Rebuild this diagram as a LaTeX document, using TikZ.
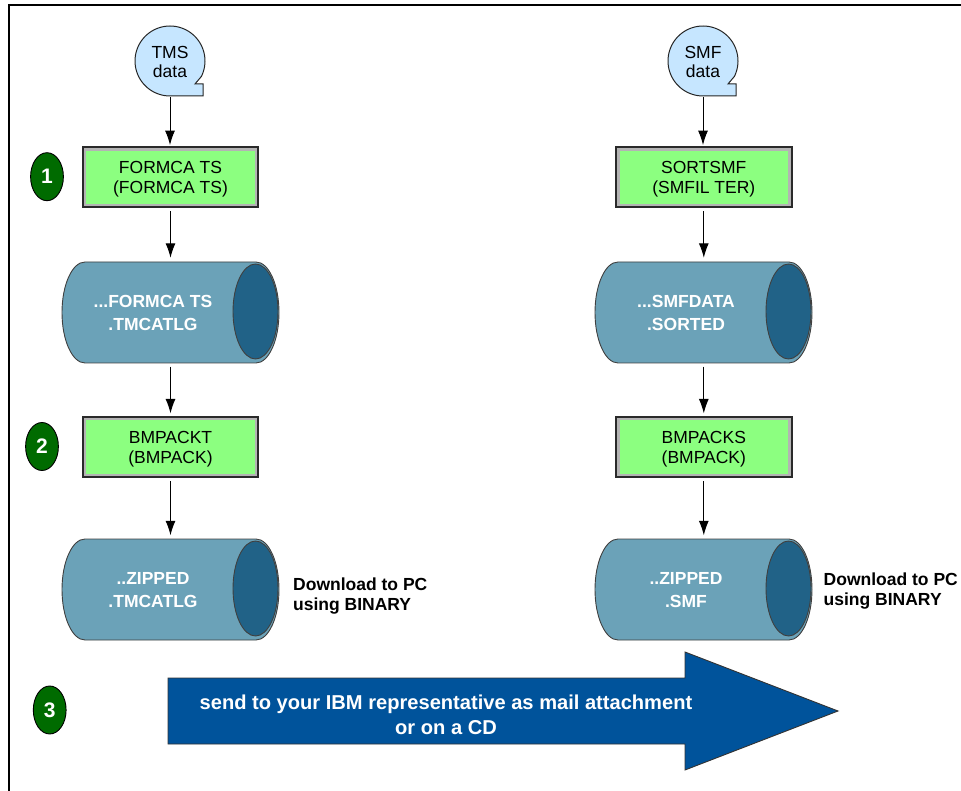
\documentclass[tikz,border=0pt]{standalone}
\usepackage{fontspec}
\setmainfont{Liberation Sans}
\usetikzlibrary{arrows.meta}
\definecolor{bubblefill}{HTML}{C6E6FF}
\definecolor{boxgreen}{HTML}{8CFF80}
\definecolor{boxband}{HTML}{B4B4B4}
\definecolor{boxline}{HTML}{2A2A2A}
\definecolor{drumbody}{HTML}{6BA2B8}
\definecolor{drumend}{HTML}{216287}
\definecolor{stepgreen}{HTML}{006B00}
\definecolor{bigblue}{HTML}{00539B}
\newcommand{\lowertop}{\rule{0pt}{17pt}}
\tikzset{
  x=1pt,y=-1pt,
  bubbletext/.style={align=center,font=\fontsize{17.5}{19.5}\selectfont,inner sep=0pt,minimum width=70pt,minimum height=70pt},
  progbox/.style={draw=boxline,line width=1.8pt,fill=boxband,minimum width=175.6pt,minimum height=60.4pt,inner sep=0pt,align=center,font=\fontsize{17.5}{20}\selectfont,
    path picture={\fill[boxgreen] ([shift={(3.6,3.6)}]path picture bounding box.north west) rectangle ([shift={(-3.6,-3.6)}]path picture bounding box.south east);}},
  drumtext/.style={text=white,align=center,font=\bfseries\fontsize{17.5}{23}\selectfont,inner sep=0pt,minimum width=182pt,minimum height=101pt},
  drumline/.style={draw=black!75,line width=0.9pt},
  steptext/.style={text=white,font=\bfseries\fontsize{21}{22}\selectfont,inner sep=0pt},
  flow/.style={-{Latex[length=14.5pt,width=10pt]},line width=1pt,black},
  note/.style={align=left,font=\bfseries\fontsize{17.5}{20}\selectfont,inner sep=0pt,anchor=west}
}
\newcommand{\bubbleshape}[2]{%
  \draw[line width=1pt,draw=black!85,fill=bubblefill]
    plot[domain=-26:270,samples=70,smooth] ({#1+35*cos(\x)},{#2-35*sin(\x)})
    -- (#1+33,#2+35) -- (#1+33,#2+23) -- (#1+25,#2+23) -- cycle;
}
\newcommand{\drumshape}[2]{%
  \draw[drumline,fill=drumbody] (#1-85.5,#2-50.5) -- (#1+85.5,#2-50.5)
    .. controls (#1+98.2,#2-50.5) and (#1+108.5,#2-27.9) .. (#1+108.5,#2)
    .. controls (#1+108.5,#2+27.9) and (#1+98.2,#2+50.5) .. (#1+85.5,#2+50.5)
    -- (#1-85.5,#2+50.5)
    .. controls (#1-98.2,#2+50.5) and (#1-108.5,#2+27.9) .. (#1-108.5,#2)
    .. controls (#1-108.5,#2-27.9) and (#1-98.2,#2-50.5) .. (#1-85.5,#2-50.5) -- cycle;
  \draw[drumline,fill=drumend] (#1+85,#2-1) ellipse[x radius=22.5,y radius=47.5];
}
\newcommand{\stepshape}[2]{%
  \draw[line width=0.9pt,fill=stepgreen] (#1,#2) ellipse[x radius=16.4,y radius=24];
}
\begin{document}
\begin{tikzpicture}
\useasboundingbox (0,0) rectangle (961,791);
\draw[line width=1.6pt] (9,791) -- (9,5) -- (961,5);

% left column
\bubbleshape{170}{61}
\node[bubbletext] (tms) at (170,62) {TMS\\data};
\node[progbox] (formcats) at (170.5,177.2) {\lowertop FORMCA TS\\(FORMCA TS)};
\drumshape{170.5}{312.5}
\node[drumtext] (drumone) at (153,312.5) {...FORMCA TS\\.TMCATLG};
\node[progbox] (bmpackt) at (170.5,447) {\lowertop BMPACKT\\(BMPACK)};
\drumshape{170.5}{589.5}
\node[drumtext] (drumtwo) at (153,590) {..ZIPPED\\.TMCATLG};

% right column
\bubbleshape{703}{61}
\node[bubbletext] (smf) at (703,62) {SMF\\data};
\node[progbox] (sortsmf) at (703.8,177.2) {\lowertop SORTSMF\\(SMFIL TER)};
\drumshape{703.5}{312.5}
\node[drumtext] (drumthree) at (686,312.5) {...SMFDATA\\.SORTED};
\node[progbox] (bmpacks) at (703.8,447) {\lowertop BMPACKS\\(BMPACK)};
\drumshape{703.5}{589.5}
\node[drumtext] (drumfour) at (686,590) {..ZIPPED\\.SMF};

% connectors
\draw[flow,shorten >=1pt] (tms.south) -- (tms.south |- formcats.north);
\draw[flow,shorten <=3pt,shorten >=4pt] (formcats.south) -- (formcats.south |- drumone.north);
\draw[flow,shorten <=3.5pt,shorten >=2.5pt] (bmpackt.north |- drumone.south) -- (bmpackt.north);
\draw[flow,shorten <=3pt,shorten >=4pt] (bmpackt.south) -- (bmpackt.south |- drumtwo.north);
\draw[flow,shorten >=1pt] (smf.south) -- (smf.south |- sortsmf.north);
\draw[flow,shorten <=3pt,shorten >=4pt] (sortsmf.south) -- (sortsmf.south |- drumthree.north);
\draw[flow,shorten <=3.5pt,shorten >=2.5pt] (bmpacks.north |- drumthree.south) -- (bmpacks.north);
\draw[flow,shorten <=3pt,shorten >=4pt] (bmpacks.south) -- (bmpacks.south |- drumfour.north);

% step marks
\stepshape{47}{176.7}
\node[steptext] (stepone) at (47,176.7) {1};
\stepshape{42}{446.5}
\node[steptext] (steptwo) at (42,446.5) {2};
\stepshape{49.7}{710}
\node[steptext] (stepthree) at (49.7,710) {3};

% notes
\node[note] (noteleft) at (293,596) {Download to PC\\using BINARY};
\node[note] (noteright) at (823.5,591) {Download to PC\\using BINARY};

% big arrow
\draw[line width=0.9pt,draw=black!80,fill=bigblue] (168,678) -- (685,678) -- (685,652) -- (838,711) -- (685,770) -- (685,744) -- (168,744) -- cycle;
\node[text=white,align=center,font=\bfseries\fontsize{20.1}{25}\selectfont,inner sep=0pt] (sendlabel) at (446,714.5) {send to your IBM representative as mail attachment\\or on a CD};
\end{tikzpicture}
\end{document}
